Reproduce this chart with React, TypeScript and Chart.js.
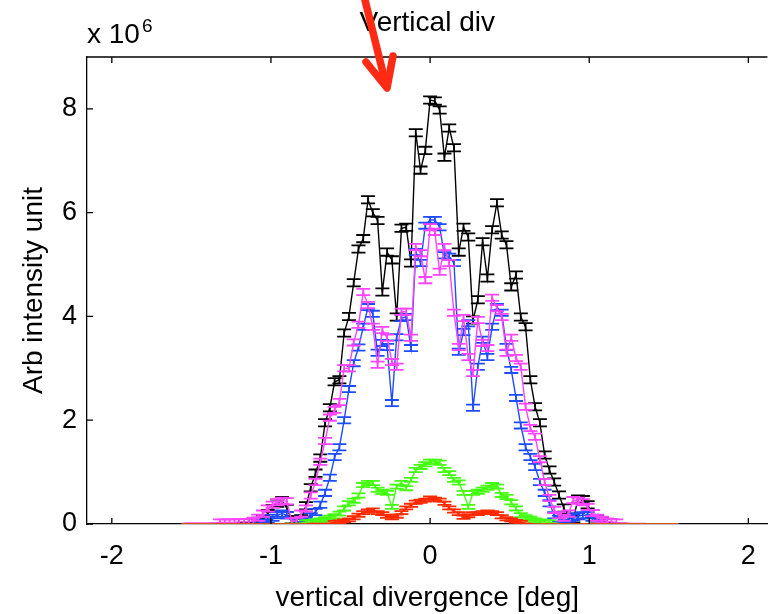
import React, { useEffect, useRef } from 'react';
import { Chart, registerables } from 'chart.js';

Chart.register(...registerables);

const FONT = "'Liberation Sans', Arial, Helvetica, sans-serif";

const X_MIN = -2.156;
const X_MAX = 2.12;
const Y_MIN = 0;
const Y_MAX = 9;
const X_TICKS = [-2, -1, 0, 1, 2];
const Y_TICKS = [0, 2, 4, 6, 8];

// vertical divergence [deg]
const X_DEG = [
  -1.56, -1.53, -1.5, -1.47, -1.44, -1.41, -1.38, -1.35, -1.32, -1.29,
  -1.26, -1.23, -1.2, -1.17, -1.14, -1.11, -1.08, -1.05, -1.02, -0.99,
  -0.96, -0.93, -0.9, -0.87, -0.84, -0.81, -0.78, -0.75, -0.72, -0.69,
  -0.66, -0.63, -0.6, -0.57, -0.54, -0.51, -0.48, -0.45, -0.42, -0.39,
  -0.36, -0.33, -0.3, -0.27, -0.24, -0.21, -0.18, -0.15, -0.12, -0.09,
  -0.06, -0.03, 0,
  0.03, 0.06, 0.09, 0.12, 0.15, 0.18, 0.21, 0.24, 0.27, 0.3,
  0.33, 0.36, 0.39, 0.42, 0.45, 0.48, 0.51, 0.54, 0.57, 0.6,
  0.63, 0.66, 0.69, 0.72, 0.75, 0.78, 0.81, 0.84, 0.87, 0.9,
  0.93, 0.96, 0.99, 1.02, 1.05, 1.08, 1.11, 1.14, 1.17, 1.2,
  1.23, 1.26, 1.29, 1.32, 1.35, 1.38, 1.41, 1.44, 1.47, 1.5,
  1.53, 1.56,
];

// intensities (x 10^6)
const BLACK = [
  0, 0, 0, 0, 0, 0, 0.01, 0.01, 0.01, 0.02,
  0.02, 0.02, 0.03, 0.03, 0.03, 0.03, 0.05, 0.1, 0.2, 0.3,
  0.4, 0.45, 0.3, 0.08, 0.08, 0.1, 0.35, 0.7, 0.98, 1.27,
  1.95, 2.24, 2.74, 2.78, 3.68, 4.0, 4.65, 5.3, 5.5, 6.25,
  6.0, 5.85, 4.47, 5.24, 5.09, 3.99, 5.7, 5.72, 5.03, 7.54,
  6.82, 7.2, 8.17, 8.15, 7.98, 7.07, 7.63, 7.25, 5.24, 5.72,
  5.53, 3.93, 4.32, 5.44, 4.74, 5.67, 6.19, 5.57, 5.38, 4.57,
  4.8, 3.99, 3.8, 2.78, 2.26, 1.95, 1.33, 1.04, 0.81, 0.56,
  0.31, 0.13, 0.1, 0.48, 0.47, 0.37, 0.2, 0.08, 0.05, 0.03,
  0.02, 0.02, 0.01, 0.01, 0, 0, 0, 0, 0, 0,
  0, 0, 0, 0, 0,
];

const BLUE = [
  0, 0, 0, 0, 0, 0, 0, 0, 0, 0,
  0, 0, 0, 0.01, 0.01, 0.02, 0.02, 0.03, 0.08, 0.12,
  0.17, 0.2, 0.17, 0.05, 0.04, 0.05, 0.08, 0.15, 0.23, 0.37,
  0.6, 0.89, 1.29, 1.48, 2.0, 2.6, 3.1, 3.4, 3.8, 4.18,
  4.05, 3.3, 3.49, 3.41, 2.33, 3.6, 3.97, 3.99, 3.39, 5.24,
  5.03, 5.75, 5.86, 5.86, 5.72, 5.18, 5.15, 5.03, 3.32, 3.7,
  3.87, 2.24, 3.03, 3.55, 3.22, 3.8, 4.18, 4.07, 3.41, 2.97,
  2.43, 1.9, 1.48, 1.29, 1.1, 0.81, 0.6, 0.4, 0.17, 0.1,
  0.08, 0.1, 0.13, 0.15, 0.17, 0.17, 0.12, 0.06, 0.03, 0.02,
  0.01, 0, 0, 0, 0, 0, 0, 0, 0, 0,
  0, 0, 0, 0, 0,
];

const MAGENTA = [
  0.01, 0.02, 0.02, 0.02, 0.02, 0.02, 0.02, 0.02, 0.03, 0.03,
  0.03, 0.03, 0.04, 0.04, 0.04, 0.06, 0.12, 0.2, 0.3, 0.37,
  0.42, 0.45, 0.44, 0.05, 0.06, 0.2, 0.3, 0.55, 0.81, 1.2,
  1.6, 2.05, 2.2, 2.35, 3.0, 3.0, 3.5, 3.84, 4.47, 4.22,
  3.8, 3.07, 3.74, 3.59, 3.12, 3.03, 4.09, 4.09, 3.59, 5.34,
  5.22, 4.7, 5.72, 5.63, 4.86, 5.34, 5.03, 4.07, 3.41, 3.97,
  3.22, 2.91, 3.93, 3.49, 3.39, 4.36, 4.16, 3.99, 3.3, 3.59,
  3.2, 3.03, 2.26, 1.85, 1.68, 1.25, 0.81, 0.5, 0.27, 0.17,
  0.12, 0.2, 0.46, 0.45, 0.42, 0.33, 0.21, 0.12, 0.08, 0.05,
  0.04, 0.03, 0.02, 0.02, 0.01, 0.01, 0.01, 0.01, 0, 0,
  0, 0, 0, 0, 0,
];

const GREEN = [
  0, 0, 0, 0, 0, 0, 0, 0, 0, 0,
  0, 0, 0, 0, 0, 0, 0, 0, 0, 0,
  0, 0, 0.01, 0.01, 0.01, 0.02, 0.03, 0.04, 0.05, 0.07,
  0.09, 0.12, 0.15, 0.2, 0.3, 0.4, 0.45, 0.55, 0.75, 0.79,
  0.79, 0.66, 0.62, 0.6, 0.33, 0.72, 0.79, 0.69, 0.85, 1.04,
  1.1, 1.15, 1.2, 1.2, 1.18, 1.04, 0.98, 0.85, 0.8, 0.6,
  0.33, 0.6, 0.62, 0.66, 0.7, 0.75, 0.72, 0.56, 0.52, 0.42,
  0.3, 0.17, 0.13, 0.1, 0.07, 0.05, 0.04, 0.03, 0.02, 0.01,
  0, 0, 0, 0, 0, 0, 0, 0, 0, 0,
  0, 0, 0, 0, 0, 0, 0, 0, 0, 0,
  0, 0, 0, 0, 0,
];

const RED = [
  0, 0, 0, 0, 0, 0, 0, 0, 0, 0,
  0, 0, 0, 0, 0, 0, 0, 0, 0, 0,
  0, 0, 0, 0, 0, 0, 0, 0.01, 0.01, 0.01,
  0.01, 0.02, 0.03, 0.04, 0.06, 0.08, 0.12, 0.17, 0.22, 0.25,
  0.27, 0.22, 0.2, 0.15, 0.12, 0.15, 0.22, 0.31, 0.36, 0.42,
  0.44, 0.46, 0.5, 0.48, 0.46, 0.4, 0.31, 0.25, 0.2, 0.13,
  0.16, 0.2, 0.2, 0.22, 0.23, 0.22, 0.2, 0.14, 0.1, 0.08,
  0.05, 0.03, 0.02, 0.01, 0, 0, 0, 0, 0, 0,
  0, 0, 0, 0, 0, 0, 0, 0, 0, 0,
  0, 0, 0, 0, 0, 0, 0, 0, 0, 0,
  0, 0, 0, 0, 0,
];

// half-height of the error bars, same units
const BLACK_ERR = 0.07;
const BLUE_ERR = 0.06;
const MAGENTA_ERR = 0.06;
const GREEN_ERR = 0.04;
const RED_ERR = 0.03;
// points at or below this level carry no visible error bar
const ERR_FLOOR = 0.025;

const errorBarPlugin = {
  id: 'errorBars',
  afterDatasetDraw(chart: any, args: any) {
    const ds: any = chart.data.datasets[args.index];
    const err = ds.errValue;
    if (!err) return;
    const { ctx, chartArea: a, scales } = chart;
    const xs = scales.x;
    const ys = scales.y;
    ctx.save();
    ctx.beginPath();
    ctx.rect(a.left, a.top, a.right - a.left, a.bottom - a.top);
    ctx.clip();
    ctx.strokeStyle = ds.borderColor;
    ctx.lineWidth = 1.8;
    const half = 7;
    ds.data.forEach((p: any) => {
      if (p.y <= ERR_FLOOR) return;
      const px = xs.getPixelForValue(p.x);
      const yt = ys.getPixelForValue(p.y + err);
      const yb = ys.getPixelForValue(p.y - err);
      ctx.beginPath();
      ctx.moveTo(px, yt);
      ctx.lineTo(px, yb);
      ctx.moveTo(px - half, yt);
      ctx.lineTo(px + half, yt);
      ctx.moveTo(px - half, yb);
      ctx.lineTo(px + half, yb);
      ctx.stroke();
    });
    ctx.restore();
  },
};

const framePlugin = {
  id: 'frame',
  afterDraw(chart: any) {
    const { ctx, chartArea: a, scales } = chart;
    ctx.save();
    ctx.strokeStyle = '#000';
    ctx.lineWidth = 1.3;
    ctx.beginPath();
    ctx.moveTo(a.left, a.top);
    ctx.lineTo(a.right, a.top);
    ctx.stroke();
    ctx.beginPath();
    X_TICKS.forEach((v) => {
      const px = scales.x.getPixelForValue(v);
      ctx.moveTo(px, a.bottom);
      ctx.lineTo(px, a.bottom - 6);
      ctx.moveTo(px, a.top);
      ctx.lineTo(px, a.top + 6);
    });
    Y_TICKS.forEach((v) => {
      const py = scales.y.getPixelForValue(v);
      ctx.moveTo(a.left, py);
      ctx.lineTo(a.left + 6, py);
    });
    ctx.stroke();

    // exponent label
    ctx.fillStyle = '#000';
    ctx.textAlign = 'left';
    ctx.textBaseline = 'alphabetic';
    ctx.font = `28px ${FONT}`;
    ctx.fillText('x 10', a.left, 43);
    const w = ctx.measureText('x 10').width;
    ctx.font = `19px ${FONT}`;
    ctx.fillText('6', a.left + w + 2, 32);

    // red annotation arrow
    ctx.strokeStyle = '#ff2a14';
    ctx.lineWidth = 7.5;
    ctx.lineCap = 'round';
    ctx.lineJoin = 'round';
    ctx.beginPath();
    ctx.moveTo(364, -4);
    ctx.lineTo(386, 85);
    ctx.stroke();
    ctx.beginPath();
    ctx.moveTo(366, 62);
    ctx.lineTo(387, 88);
    ctx.lineTo(393, 56);
    ctx.stroke();
    ctx.restore();
  },
};

export default function App() {
  const ref = useRef<HTMLCanvasElement>(null);

  useEffect(() => {
    const canvas = ref.current;
    if (!canvas) return;
    const mk = (vals: number[], color: string, err: number, order: number) => ({
      data: X_DEG.map((x, i) => ({ x, y: vals[i] })),
      borderColor: color,
      backgroundColor: color,
      borderWidth: 1.4,
      pointRadius: 0,
      pointHoverRadius: 0,
      showLine: true,
      tension: 0,
      order,
      errValue: err,
    });
    const tickFont = { family: FONT, size: 27 };
    const titleFont = { family: FONT, size: 28, weight: 'normal' as const };
    const chart = new Chart(canvas, {
      type: 'scatter',
      data: {
        datasets: [
          mk(BLACK, '#000000', BLACK_ERR, 5),
          mk(BLUE, '#1f4cff', BLUE_ERR, 4),
          mk(MAGENTA, '#ff44ff', MAGENTA_ERR, 3),
          mk(GREEN, '#44ff11', GREEN_ERR, 2),
          mk(RED, '#ff2a00', RED_ERR, 1),
        ] as any,
      },
      options: {
        responsive: false,
        animation: false,
        devicePixelRatio: 1,
        layout: { padding: 0 },
        events: [],
        plugins: {
          legend: { display: false },
          tooltip: { enabled: false },
          title: {
            display: true,
            text: 'Vertical div',
            fullSize: false,
            color: '#000',
            font: titleFont,
            padding: { top: 6.5, bottom: 16.9 },
          },
        },
        scales: {
          x: {
            type: 'linear',
            min: X_MIN,
            max: X_MAX,
            afterBuildTicks: (s: any) => {
              s.ticks = X_TICKS.map((v) => ({ value: v }));
            },
            afterFit: (s: any) => {
              s.height = 90;
            },
            grid: { display: false, drawTicks: false },
            border: { display: true, color: '#000', width: 1.3 },
            ticks: { color: '#000', font: tickFont, padding: 16, autoSkip: false, maxRotation: 0 },
            title: {
              display: true,
              text: 'vertical divergence [deg]',
              color: '#000',
              font: titleFont,
              padding: { top: 0, bottom: -1 },
            },
          },
          y: {
            type: 'linear',
            min: Y_MIN,
            max: Y_MAX,
            afterBuildTicks: (s: any) => {
              s.ticks = Y_TICKS.map((v) => ({ value: v }));
            },
            afterFit: (s: any) => {
              s.width = 87;
            },
            grid: { display: false, drawTicks: false },
            border: { display: true, color: '#000', width: 1.3 },
            ticks: { color: '#000', font: tickFont, padding: 10, autoSkip: false },
            title: {
              display: true,
              text: 'Arb intensity unit',
              color: '#000',
              font: titleFont,
              padding: { top: 17.5, bottom: 0 },
            },
          },
        },
      } as any,
      plugins: [errorBarPlugin, framePlugin],
    });
    return () => chart.destroy();
  }, []);

  return (
    <div style={{ position: 'absolute', left: 0, top: 0, width: 772, height: 614, background: '#fff' }}>
      <canvas ref={ref} width={772} height={614} style={{ display: 'block', width: 772, height: 614 }} />
    </div>
  );
}
